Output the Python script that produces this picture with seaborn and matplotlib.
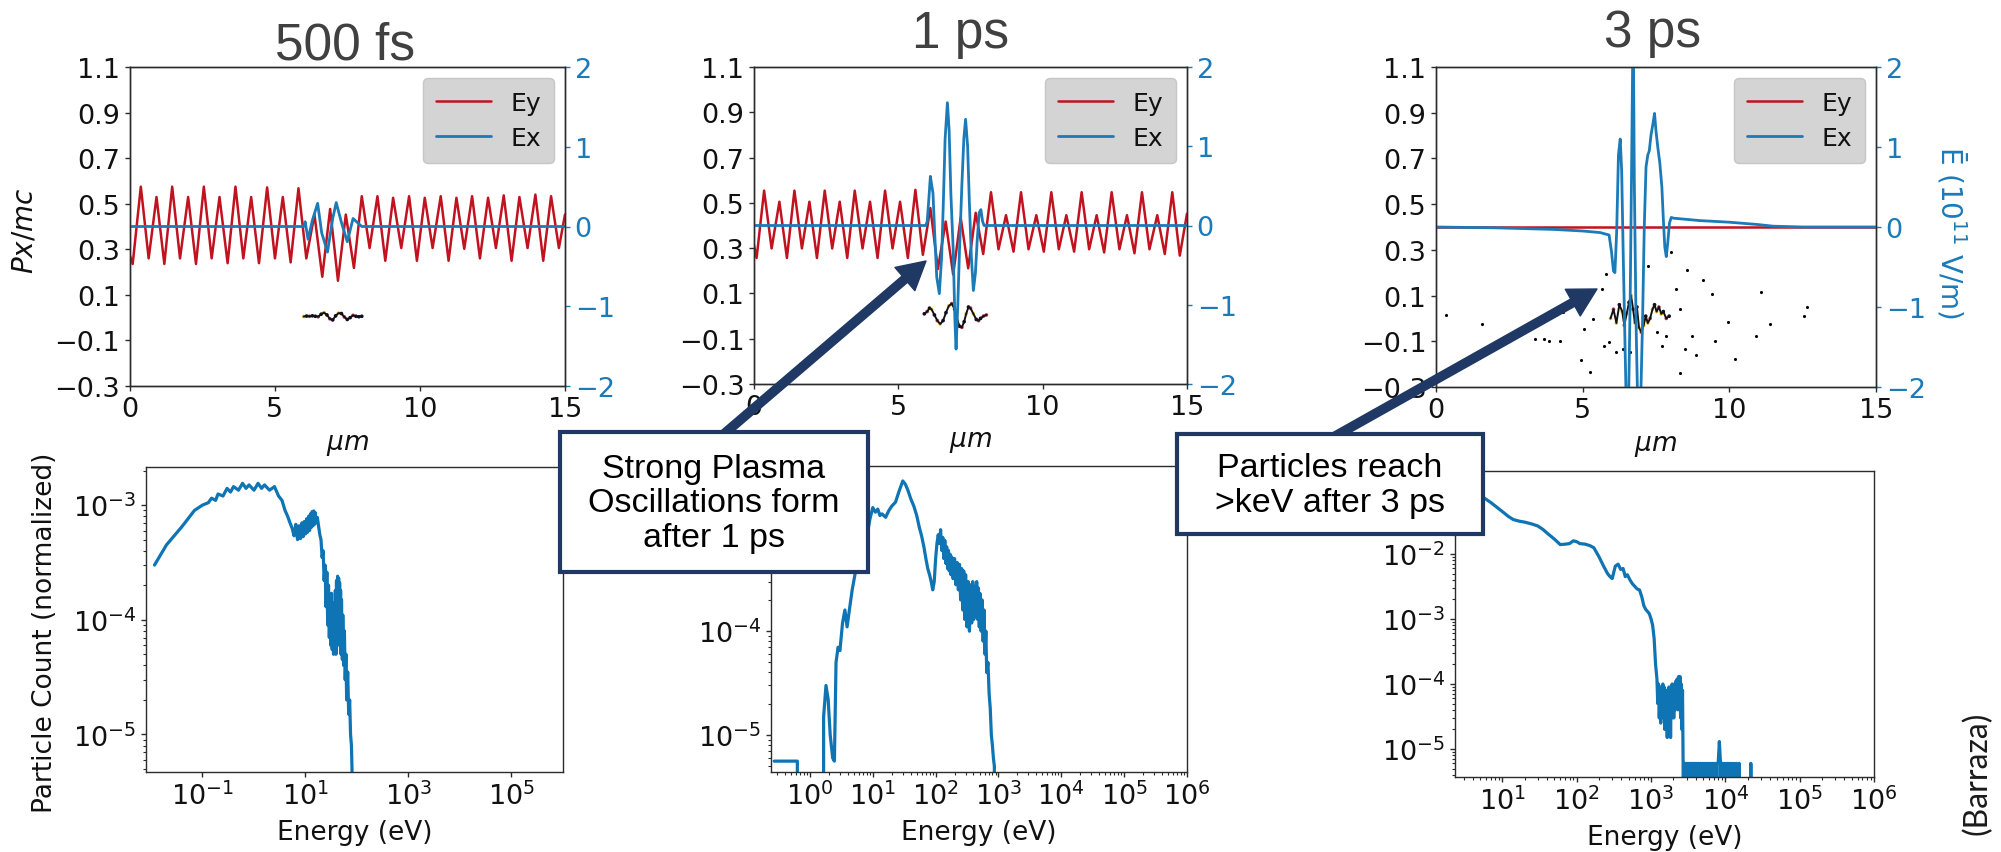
import matplotlib
matplotlib.use("Agg")
import matplotlib.pyplot as plt
from matplotlib.patches import Rectangle, FancyArrowPatch, ArrowStyle
from matplotlib.ticker import FixedLocator, NullLocator, LogLocator
import seaborn as sns

# ---------------------------------------------------------------------------
# Field snapshots: Ey / Ex in units of 1e11 V/m, x in micrometres
# ---------------------------------------------------------------------------
ey_500_x = [0.0, 0.11, 0.39, 0.66, 0.93, 1.20, 1.47, 1.74, 2.02, 2.29, 2.56, 2.83,
            3.10, 3.38, 3.65, 3.92, 4.19, 4.46, 4.74, 5.01, 5.28, 5.55, 5.82, 6.09,
            6.37, 6.64, 6.91, 7.18, 7.45, 7.73, 8.00, 8.27, 8.54, 8.81, 9.08, 9.36,
            9.63, 9.90, 10.17, 10.44, 10.72, 10.99, 11.26, 11.53, 11.80, 12.07, 12.35,
            12.62, 12.89, 13.16, 13.43, 13.71, 13.98, 14.25, 14.52, 14.79, 15.0]
ey_500_v = [-0.35, -0.47, 0.50, -0.40, 0.37, -0.47, 0.50, -0.40, 0.37, -0.47, 0.50, -0.40,
            0.37, -0.46, 0.50, -0.40, 0.37, -0.46, 0.49, -0.40, 0.37, -0.45, 0.48, -0.40,
            0.15, -0.63, 0.22, -0.68, 0.15, -0.52, 0.38, -0.27, 0.38, -0.43, 0.36, -0.27,
            0.38, -0.43, 0.36, -0.27, 0.38, -0.43, 0.36, -0.28, 0.38, -0.40, 0.36,
            -0.27, 0.39, -0.43, 0.37, -0.27, 0.40, -0.43, 0.38, -0.27, 0.15]
ex_500_x = [0.0, 6.0, 6.05, 6.15, 6.3, 6.48, 6.62, 6.82, 7.0, 7.12, 7.3, 7.5, 7.7, 7.85, 8.0, 15.0]
ex_500_v = [0.0, 0.0, 0.06, -0.16, 0.08, 0.29, -0.08, -0.32, 0.10, 0.30, 0.05, -0.19, 0.10, 0.05, 0.0, 0.0]

ey_1_x = [0.0, 0.09, 0.35, 0.61, 0.88, 1.14, 1.40, 1.66, 1.92, 2.18, 2.45, 2.71, 2.97,
          3.23, 3.49, 3.76, 4.02, 4.28, 4.54, 4.80, 5.06, 5.33, 5.59, 5.85, 6.11, 6.37,
          6.64, 6.90, 7.16, 7.42, 7.68, 7.94, 8.21, 8.47, 8.73, 8.99, 9.25, 9.51, 9.78,
          10.04, 10.30, 10.56, 10.82, 11.09, 11.35, 11.61, 11.87, 12.13, 12.39, 12.66,
          12.92, 13.18, 13.44, 13.70, 13.97, 14.23, 14.49, 14.75, 15.0]
ey_1_v = [-0.25, -0.41, 0.44, -0.29, 0.30, -0.41, 0.44, -0.29, 0.30, -0.41, 0.44, -0.29, 0.30,
          -0.41, 0.44, -0.29, 0.30, -0.41, 0.44, -0.29, 0.30, -0.41, 0.45, -0.37, 0.22, -0.55,
          0.05, -0.62, 0.10, -0.54, 0.16, -0.36, 0.42, -0.30, 0.13, -0.33, 0.42, -0.30, 0.13,
          -0.33, 0.42, -0.30, 0.13, -0.33, 0.42, -0.30, 0.13, -0.34, 0.42, -0.30,
          0.13, -0.35, 0.42, -0.30, 0.13, -0.36, 0.42, -0.38, 0.15]
ex_1_x = [0.0, 5.95, 6.0, 6.06, 6.11, 6.16, 6.2, 6.26, 6.33, 6.42, 6.5, 6.56, 6.62, 6.7,
          6.76, 6.82, 6.9, 6.96, 7.0, 7.06, 7.12, 7.2, 7.27, 7.33, 7.4, 7.46, 7.53, 7.6,
          7.67, 7.73, 7.8, 7.86, 7.92, 7.97, 15.0]
ex_1_v = [0.0, 0.0, 0.05, 0.35, 0.62, 0.50, 0.41, -0.10, -0.65, -0.86, -0.40, 0.30, 1.09, 1.55,
          1.20, 0.40, -0.30, -1.20, -1.56, -1.00, -0.30, 0.50, 1.10, 1.34, 1.00, 0.30, -0.40, -0.82,
          -0.60, -0.20, 0.16, 0.20, 0.05, 0.0, 0.0]

ey_3_x = [0.0, 15.0]
ey_3_v = [0.0, 0.0]
ex_3_x = [0.0, 1.0, 2.0, 3.0, 4.0, 5.0, 5.6, 5.9, 5.98, 6.05, 6.1, 6.16, 6.22, 6.28, 6.33,
          6.38, 6.44, 6.49, 6.56, 6.62, 6.67, 6.71, 6.73, 6.76, 6.82, 6.88, 6.97, 7.04, 7.1,
          7.16, 7.22, 7.27, 7.33, 7.4, 7.45, 7.5, 7.56, 7.63, 7.7, 7.75, 7.8, 7.85, 7.9,
          7.96, 8.02, 8.1, 9.0, 10.0, 11.0, 11.5, 12.5, 15.0]
ex_3_v = [0.0, -0.005, -0.01, -0.02, -0.03, -0.05, -0.07, -0.10, -0.30, -0.55, -0.57, -0.05,
          0.90, 1.10, 0.70, -0.30, -1.40, -2.30, -2.30, -0.90, 0.80, 2.30, 2.30, 0.60, -1.20,
          -2.30, -2.30, -1.20, 0.0, 0.75, 0.90, 0.95, 1.15, 1.30, 1.42, 1.20, 1.00, 0.80,
          0.50, 0.10, -0.25, -0.37, -0.20, 0.05, 0.12, 0.11, 0.08, 0.06, 0.03, 0.01, 0.0, 0.0]

# Electron phase space: bunch trace (x in um, Px/mc, colour weight)
ps_500_x = [6.0, 6.1, 6.2, 6.3, 6.4, 6.5, 6.6, 6.7, 6.8, 6.9, 7.0, 7.1, 7.2, 7.3, 7.4, 7.5,
            7.6, 7.7, 7.8, 7.9, 8.0]
ps_500_p = [0.005, 0.007, 0.006, 0.008, 0.006, 0.004, 0.015, 0.022, 0.012, -0.005, -0.010,
            0.008, 0.020, 0.018, 0.003, -0.008, 0.0, 0.010, 0.006, 0.004, 0.006]
ps_500_w = [0.85, 0.1, 0.5, 0.1, 0.1, 0.5, 0.1, 0.85, 0.1, 0.5, 0.1, 0.1, 0.85, 0.1, 0.5,
            0.1, 0.1, 0.5, 0.1, 0.1, 0.1]

ps_1_x = [5.9, 6.0, 6.08, 6.15, 6.25, 6.35, 6.45, 6.55, 6.65, 6.75, 6.85, 6.95, 7.05, 7.12,
          7.2, 7.28, 7.35, 7.43, 7.5, 7.6, 7.7, 7.78, 7.85, 7.95, 8.05]
ps_1_p = [0.01, 0.02, 0.035, 0.03, 0.005, -0.02, -0.035, -0.02, 0.015, 0.045, 0.055, 0.03,
          -0.02, -0.045, -0.05, -0.025, 0.01, 0.04, 0.035, 0.01, -0.015, -0.02, -0.01, 0.0,
          0.005]
ps_1_w = [0.1, 0.5, 0.1, 0.85, 0.1, 0.5, 0.85, 0.1, 0.1, 0.85, 0.5, 0.1, 0.85, 0.1, 0.5,
          0.1, 0.85, 0.1, 0.5, 0.85, 0.1, 0.5, 0.1, 0.5, 0.5]

ps_3_x = [5.95, 6.05, 6.15, 6.25, 6.35, 6.42, 6.5, 6.58, 6.65, 6.72, 6.78, 6.85, 6.92, 7.0,
          7.08, 7.15, 7.22, 7.3, 7.38, 7.45, 7.52, 7.6, 7.68, 7.75, 7.85, 7.95]
ps_3_p = [0.0, 0.04, -0.02, 0.06, 0.03, -0.03, 0.02, 0.07, 0.10, 0.04, -0.02, 0.05, -0.04,
          -0.06, -0.03, 0.01, -0.02, 0.0, 0.04, 0.06, 0.03, 0.05, 0.02, 0.03, 0.0, 0.01]
ps_3_w = [0.85, 0.5, 0.85, 0.1, 0.85, 0.5, 0.85, 0.1, 0.85, 0.5, 0.85, 0.1, 0.85, 0.5,
          0.85, 0.1, 0.85, 0.5, 0.85, 0.1, 0.85, 0.5, 0.85, 0.1, 0.5, 0.1]

# Stray electrons at 3 ps
stray_3_x = [0.35, 1.57, 3.38, 3.69, 3.85, 4.24, 4.32, 4.95, 5.03, 5.26, 5.34, 5.65, 5.73,
             5.81, 5.89, 6.13, 6.36, 6.60, 7.23, 7.54, 7.70, 8.01, 8.17, 8.32, 8.48, 8.56,
             8.72, 9.10, 9.42, 9.50, 9.97, 10.2, 10.9, 11.07, 11.39, 12.64, 12.56, 8.32,
             8.87, 7.85]
stray_3_p = [0.015, -0.024, -0.09, -0.09, -0.097, -0.10, 0.027, -0.18, -0.046, -0.236,
             -0.002, 0.13, -0.12, 0.195, -0.104, -0.148, -0.134, -0.148, 0.23, -0.06,
             -0.12, 0.29, 0.13, 0.04, -0.134, 0.21, -0.075, 0.17, 0.107, -0.097, -0.017,
             -0.178, -0.075, 0.114, -0.024, 0.05, 0.012, -0.24, -0.16, -0.075]

# ---------------------------------------------------------------------------
# Energy spectra (eV, normalised particle count)
# ---------------------------------------------------------------------------
en_500 = [0.0117, 0.02, 0.04, 0.07, 0.1, 0.13, 0.15, 0.18, 0.2, 0.25, 0.3, 0.35, 0.4, 0.5,
          0.6, 0.7, 0.8, 1.0, 1.2, 1.4, 1.6, 2.0, 2.5, 3.0, 3.5, 4.0, 4.5, 5.0, 5.5, 6.0,
          6.5, 7.0, 7.5, 8.0, 8.5, 9.0, 9.5, 10.0, 10.5, 11.0, 11.5, 12.0, 12.5, 13.0, 13.5,
          14.0, 14.5, 15.0, 15.5, 16.0, 17.0, 18.0, 19.0,
          20.0, 21.0, 22.0, 23.0, 24.0, 25.0, 26.0, 27.0, 28.0, 29.0, 30.0, 31.0, 32.0, 33.0,
          34.0, 35.0, 36.0, 37.0, 38.0, 39.0, 40.0, 41.0, 42.0, 43.0, 44.0, 45.0, 46.0, 47.0,
          48.0, 49.0, 50.0, 52.0, 53.0, 55.0, 57.0, 59.0, 61.0, 63.0, 66.0, 69.0, 72.0, 75.0,
          78.0, 80.0, 83.0]
ct_500 = [3.0e-4, 4.5e-4, 6.5e-4, 9.0e-4, 1.0e-3, 1.05e-3, 1.15e-3, 1.1e-3, 1.25e-3, 1.2e-3,
          1.4e-3, 1.3e-3, 1.45e-3, 1.35e-3, 1.55e-3, 1.4e-3, 1.5e-3, 1.35e-3, 1.55e-3, 1.4e-3,
          1.5e-3, 1.35e-3, 1.45e-3, 1.2e-3, 1.1e-3, 9.0e-4, 8.0e-4, 7.0e-4, 6.3e-4, 5.4e-4,
          6.8e-4, 5.0e-4, 6.6e-4, 5.1e-4, 7.0e-4, 5.3e-4, 7.2e-4, 5.6e-4, 7.6e-4, 5.8e-4,
          8.0e-4, 6.0e-4, 8.4e-4, 6.4e-4, 8.8e-4, 6.6e-4, 8.9e-4, 6.8e-4, 8.6e-4, 7.0e-4,
          7.8e-4, 6.5e-4, 5.5e-4,
          5.0e-4, 3.5e-4, 4.0e-4, 2.2e-4, 3.0e-4, 1.3e-4, 2.6e-4, 9.0e-5, 2.0e-4, 7.0e-5,
          1.5e-4, 6.0e-5, 1.7e-4, 5.5e-5, 1.3e-4, 5.0e-5, 1.4e-4, 6.0e-5, 1.8e-4, 5.0e-5,
          2.2e-4, 7.0e-5, 2.4e-4, 8.0e-5, 2.3e-4, 6.0e-5, 2.1e-4, 7.0e-5, 1.8e-4, 5.0e-5,
          1.5e-4, 4.5e-5, 1.1e-4, 4.0e-5, 8.0e-5, 3.0e-5, 5.0e-5, 2.0e-5, 3.5e-5, 1.5e-5,
          2.0e-5, 1.0e-5, 8.0e-6, 5.0e-6, 0.0]

en_1 = [0.27, 0.63, 0.64, 1.55, 1.65, 1.8, 1.95, 2.1, 2.3, 2.45, 2.6, 2.8, 3.0, 3.3, 3.6,
        3.9, 4.3, 4.7, 5.2, 5.7, 6.3, 7.0, 8.0, 9.0, 10.0, 11.0, 12.0, 13.0, 14.0, 16.0,
        18.0, 20.0, 23.0, 26.0, 30.0, 33.0, 36.0, 40.0, 45.0, 50.0, 55.0, 60.0, 65.0, 70.0,
        75.0, 80.0, 85.0, 90.0, 95.0,
        100.0, 105.0, 110.0, 115.0, 120.0, 125.0, 130.0, 135.0, 140.0, 145.0, 150.0, 155.0,
        160.0, 165.0, 170.0, 175.0, 180.0, 190.0, 200.0, 210.0, 220.0, 230.0, 240.0, 250.0,
        260.0, 270.0, 280.0, 290.0, 300.0, 315.0, 330.0, 345.0, 360.0, 375.0, 390.0, 405.0,
        420.0, 435.0, 450.0, 465.0, 480.0, 495.0, 510.0, 530.0, 550.0, 570.0, 590.0, 610.0,
        630.0, 650.0, 680.0, 710.0, 740.0, 770.0, 800.0, 830.0, 860.0, 880.0]
ct_1 = [5.6e-6, 5.6e-6, 0.0, 0.0, 1.5e-5, 3.0e-5, 2.2e-5, 1.0e-5, 6.0e-6, 5.6e-6, 5.0e-5,
        7.0e-5, 6.5e-5, 1.2e-4, 1.6e-4, 1.1e-4, 1.7e-4, 2.5e-4, 3.5e-4, 5.0e-4, 7.0e-4,
        9.0e-4, 8.0e-4, 1.2e-3, 1.55e-3, 1.4e-3, 1.5e-3, 1.3e-3, 1.35e-3, 1.25e-3, 1.45e-3,
        1.6e-3, 1.75e-3, 2.2e-3, 2.8e-3, 2.6e-3, 2.3e-3, 1.9e-3, 1.6e-3, 1.3e-3, 1.0e-3,
        8.2e-4, 6.5e-4, 5.0e-4, 4.0e-4, 3.5e-4, 3.0e-4, 2.5e-4, 3.0e-4,
        5.0e-4, 7.0e-4, 8.5e-4, 7.0e-4, 9.5e-4, 6.0e-4, 8.0e-4, 5.0e-4, 7.5e-4, 4.5e-4,
        6.5e-4, 4.0e-4, 6.0e-4, 3.8e-4, 5.5e-4, 3.5e-4, 5.2e-4, 3.2e-4, 5.0e-4, 2.8e-4,
        4.6e-4, 2.5e-4, 4.4e-4, 2.0e-4, 4.0e-4, 1.6e-4, 3.8e-4, 1.3e-4, 3.5e-4, 1.1e-4,
        3.0e-4, 1.0e-4, 2.8e-4, 1.2e-4, 3.0e-4, 1.3e-4, 2.7e-4, 1.4e-4, 3.0e-4, 1.3e-4,
        2.6e-4, 1.1e-4, 2.3e-4, 1.0e-4, 2.0e-4, 8.0e-5, 1.6e-4, 6.0e-5, 1.0e-4, 4.0e-5,
        5.0e-5, 2.5e-5, 1.8e-5, 1.0e-5, 8.0e-6, 6.0e-6, 5.0e-6, 0.0]

en_3 = [2.4, 3.0, 4.0, 5.0, 6.0, 7.0, 8.0, 10.0, 12.0, 14.0, 17.0, 20.0, 25.0, 30.0, 35.0,
        40.0, 50.0, 60.0, 70.0, 80.0, 90.0, 100.0, 110.0, 130.0, 150.0, 170.0, 200.0, 230.0,
        260.0, 280.0, 300.0, 330.0, 360.0, 390.0, 420.0, 450.0, 480.0, 520.0, 560.0, 600.0,
        650.0, 700.0, 750.0, 800.0, 850.0, 900.0, 950.0, 1000.0, 1050.0, 1100.0, 1150.0,
        1200.0, 1230.0, 1260.0, 1290.0, 1320.0, 1350.0, 1380.0, 1410.0, 1440.0, 1470.0,
        1500.0, 1530.0, 1560.0, 1590.0, 1620.0, 1650.0, 1680.0, 1710.0, 1740.0, 1770.0,
        1800.0, 1830.0, 1860.0, 1890.0, 1920.0, 1950.0, 1980.0, 2020.0, 2060.0, 2100.0,
        2150.0, 2200.0, 2250.0, 2300.0, 2350.0, 2400.0, 2450.0, 2500.0, 2550.0, 2600.0,
        2650.0, 2700.0, 2760.0, 2820.0, 2880.0, 2950.0, 3020.0, 3100.0, 3180.0, 3260.0,
        3350.0, 3450.0, 3550.0, 3650.0, 3750.0, 3850.0, 3950.0, 4070.0, 4200.0, 4330.0,
        4470.0, 4600.0, 4750.0, 4900.0, 5050.0, 5200.0, 5400.0, 5600.0, 5800.0, 6000.0,
        6200.0, 6400.0, 6600.0, 6800.0, 7000.0, 7250.0, 7500.0, 7750.0, 8000.0, 8300.0,
        8600.0, 8900.0, 9200.0, 9500.0, 9800.0, 10100.0, 10500.0, 10900.0, 11300.0,
        11700.0, 12100.0, 12600.0, 13100.0, 13600.0, 14100.0, 14700.0, 15300.0, 16000.0,
        21500.0, 22000.0, 22500.0]
ct_3 = [0.14, 0.12, 0.095, 0.08, 0.07, 0.062, 0.055, 0.045, 0.038, 0.034, 0.032, 0.031,
        0.029, 0.027, 0.024, 0.021, 0.017, 0.014, 0.0142, 0.0145, 0.016, 0.0155, 0.0145,
        0.0142, 0.0135, 0.0125, 0.009, 0.0065, 0.005, 0.0045, 0.0042, 0.0065, 0.007, 0.0058,
        0.006, 0.0045, 0.0048, 0.004, 0.0035, 0.0032, 0.0029, 0.0028, 0.0022, 0.0016, 0.0014,
        0.0013, 0.0012, 0.001, 8.0e-4, 5.0e-4, 2.0e-4,
        1.2e-4, 5.0e-5, 1.0e-4, 3.0e-5, 9.0e-5, 2.5e-5, 8.0e-5, 4.0e-5, 1.0e-4, 3.0e-5,
        9.0e-5, 2.0e-5, 7.0e-5, 3.0e-5, 8.0e-5, 1.5e-5, 6.0e-5, 2.0e-5, 9.0e-5, 3.0e-5,
        8.0e-5, 1.5e-5, 6.0e-5, 3.0e-5, 1.0e-4, 4.0e-5, 9.0e-5, 3.0e-5, 1.0e-4, 4.0e-5,
        1.1e-4, 5.0e-5, 1.2e-4, 4.0e-5, 1.3e-4, 5.0e-5, 1.3e-4, 3.0e-5, 1.0e-4, 2.0e-5,
        8.0e-5, 6.0e-6,
        0.0, 6.0e-6, 0.0, 6.0e-6, 0.0, 6.0e-6, 0.0, 6.0e-6,
        0.0, 6.0e-6, 0.0, 6.0e-6, 0.0, 6.0e-6, 0.0, 6.0e-6, 0.0, 6.0e-6,
        0.0, 6.0e-6, 0.0, 6.0e-6, 0.0, 6.0e-6, 0.0, 6.0e-6, 0.0, 6.0e-6,
        0.0, 6.0e-6, 0.0, 6.0e-6, 0.0, 6.0e-6, 0.0, 6.0e-6, 6.0e-6, 1.3e-5,
        6.0e-6, 0.0, 6.0e-6, 0.0, 6.0e-6, 0.0, 6.0e-6, 0.0, 6.0e-6,
        0.0, 6.0e-6, 0.0, 6.0e-6, 0.0, 6.0e-6, 0.0, 6.0e-6, 0.0,
        0.0, 6.0e-6, 0.0]

titles = ["500 fs", "1 ps", "3 ps"]
p_ticks = [-0.3, -0.1, 0.1, 0.3, 0.5, 0.7, 0.9, 1.1]
e_ticks = [-2, -1, 0, 1, 2]
x_ticks = [0, 5, 10, 15]
notes = ["Strong Plasma\nOscillations form\nafter 1 ps", "Particles reach\n>keV after 3 ps"]

# ---------------------------------------------------------------------------
sns.set_style("ticks")
plt.rcParams["font.family"] = ["DejaVu Sans"]
plt.rcParams.update({
    "axes.edgecolor": "#2b2b2b",
    "axes.linewidth": 1.0,
    "xtick.color": "#2b2b2b",
    "ytick.color": "#2b2b2b",
    "xtick.labelcolor": "#111111",
    "ytick.labelcolor": "#111111",
    "axes.labelcolor": "#111111",
    "text.color": "#111111",
    "mathtext.fontset": "dejavusans",
    "xtick.major.width": 1.0,
    "ytick.major.width": 1.0,
    "xtick.minor.width": 0.8,
    "ytick.minor.width": 0.8,
})

RED = "#c1121f"
BLUE = "#1b7ab8"
SPEC = "#0f74b3"
NAVY = "#1f3864"
TICK_FS = 19.5

W, H = 2001, 853
fig = plt.figure(figsize=(W / 100, H / 100), dpi=100)


def frac(x0, y0, x1, y1):
    return [x0 / W, 1 - y1 / H, (x1 - x0) / W, (y1 - y0) / H]


def fpt(x, y):
    return (x / W, 1 - y / H)


def field_panel(rect, ey_x, ey_v, ex_x, ex_v, ps_x, ps_p, ps_w, stray=None,
                left_label=False, right_label=False):
    ax = fig.add_axes(frac(*rect))
    if stray is not None:
        sns.scatterplot(x=stray[0], y=stray[1], color="black", s=5, linewidth=0,
                        legend=False, ax=ax)
    sns.lineplot(x=ps_x, y=ps_p, color="#111111", linewidth=1.4, sort=False,
                 estimator=None, ax=ax)
    sns.scatterplot(x=ps_x, y=ps_p, hue=ps_w, palette="inferno", hue_norm=(0, 1), s=7,
                    linewidth=0, legend=False, ax=ax)
    ax.set_xlim(0, 15)
    ax.set_ylim(-0.3, 1.1)
    ax.set_xticks(x_ticks)
    ax.set_yticks(p_ticks)
    ax.set_yticklabels([f"{v:.1f}".replace("-", "\u2212") for v in p_ticks])
    ax.tick_params(labelsize=TICK_FS)
    ax.set_xlabel(r"$\mu m$", fontsize=19, va="top")
    ax.xaxis.set_label_coords(0.5, -0.14)
    if left_label:
        ax.set_ylabel(r"$Px/mc$", fontsize=20, va="center")
        ax.yaxis.set_label_coords(-0.24, 0.49)
    else:
        ax.set_ylabel("")

    ax2 = ax.twinx()
    sns.lineplot(x=ey_x, y=ey_v, color=RED, linewidth=1.8, label="Ey", sort=False,
                 estimator=None, solid_joinstyle="round", ax=ax2)
    sns.lineplot(x=ex_x, y=ex_v, color=BLUE, linewidth=2.0, label="Ex", sort=False,
                 estimator=None, solid_joinstyle="round", ax=ax2)
    ax2.set_xlim(0, 15)
    ax2.set_ylim(-2, 2)
    ax2.set_yticks(e_ticks)
    ax2.tick_params(axis="y", colors=BLUE, labelcolor=BLUE, labelsize=TICK_FS)
    ax2.spines["right"].set_color("#2b2b2b")
    if right_label:
        ax2.set_ylabel("\u0112 (10$^{11}$ V/m)", color=BLUE, fontsize=20, rotation=270,
                       va="center")
        ax2.yaxis.set_label_coords(1.173, 0.485)
    else:
        ax2.set_ylabel("")
    ax2.legend(loc="upper right", fontsize=18, facecolor="#d4d4d4", edgecolor="#c6c6c6",
               framealpha=1.0, fancybox=True, handlelength=2.2, borderaxespad=0.45,
               borderpad=0.5, labelspacing=0.45)
    return ax, ax2


def spectrum_panel(rect, e, n, xlim, ylim, xmajor, xminor, ymajor, ylabel=False):
    ax = fig.add_axes(frac(*rect))
    ax.set_xscale("log")
    ax.set_yscale("log")
    sns.lineplot(x=e, y=n, color=SPEC, linewidth=2.3, sort=False, estimator=None,
                 legend=False, ax=ax)
    ax.set_xlim(*xlim)
    ax.set_ylim(*ylim)
    ax.xaxis.set_major_locator(FixedLocator(xmajor))
    if xminor:
        ax.xaxis.set_minor_locator(LogLocator(base=10, subs=range(2, 10), numticks=60))
    else:
        ax.xaxis.set_minor_locator(NullLocator())
    ax.yaxis.set_major_locator(FixedLocator(ymajor))
    ax.yaxis.set_minor_locator(LogLocator(base=10, subs=range(2, 10), numticks=60))
    ax.tick_params(labelsize=TICK_FS)
    ax.set_xlabel("Energy (eV)", fontsize=19, va="top")
    ax.xaxis.set_label_coords(0.5, -0.155)
    if ylabel:
        ax.set_ylabel("Particle Count (normalized)", fontsize=19, va="center")
        ax.yaxis.set_label_coords(-0.242, 0.46)
    else:
        ax.set_ylabel("")
    return ax


# Top row: field snapshots
field_panel((129.5, 68, 565, 387), ey_500_x, ey_500_v, ex_500_x, ex_500_v,
            ps_500_x, ps_500_p, ps_500_w, left_label=True)
field_panel((754, 68, 1187, 385), ey_1_x, ey_1_v, ex_1_x, ex_1_v,
            ps_1_x, ps_1_p, ps_1_w)
field_panel((1436, 68, 1876, 388), ey_3_x, ey_3_v, ex_3_x, ex_3_v,
            ps_3_x, ps_3_p, ps_3_w, stray=(stray_3_x, stray_3_p), right_label=True)

# Bottom row: energy spectra
spectrum_panel((146, 468, 563, 773), en_500, ct_500, (8e-3, 1e6), (4.7e-6, 2.15e-3),
               [1e-1, 1e1, 1e3, 1e5], False, [1e-5, 1e-4, 1e-3], ylabel=True)
spectrum_panel((771, 467, 1187, 773), en_1, ct_1, (0.24, 1e6), (4.4e-6, 3.9e-3),
               [1e0, 1e1, 1e2, 1e3, 1e4, 1e5, 1e6], True, [1e-5, 1e-4, 1e-3])
spectrum_panel((1455, 472, 1874, 778), en_3, ct_3, (2.3, 1e6), (3.7e-6, 0.19),
               [1e1, 1e2, 1e3, 1e4, 1e5, 1e6], True, [1e-5, 1e-4, 1e-3, 1e-2, 1e-1])

# Time labels
for t, (x, y) in zip(titles, [(345, 60), (961, 48), (1653, 47)]):
    fig.text(*fpt(x, y), t, ha="center", va="baseline", fontsize=37,
             family=["Liberation Sans", "DejaVu Sans"], color="#404040")

# Call-out arrows and boxes
arrow_style = ArrowStyle("simple", head_length=0.5, head_width=0.55, tail_width=0.15)
for (x0, y0), (x1, y1) in [((718, 440), (926, 262)), ((1330, 440), (1597, 290))]:
    arr = FancyArrowPatch(fpt(x0, y0), fpt(x1, y1), transform=fig.transFigure,
                          arrowstyle=arrow_style, mutation_scale=40, color=NAVY,
                          shrinkA=0, shrinkB=0, zorder=5)
    fig.add_artist(arr)

for note, (x0, y0, x1, y1) in zip(notes, [(560, 433, 868, 573), (1177, 435, 1483, 535)]):
    rect = Rectangle(fpt(x0, y1), (x1 - x0) / W, (y1 - y0) / H, transform=fig.transFigure,
                     facecolor="white", edgecolor=NAVY, linewidth=3.0, zorder=6)
    fig.add_artist(rect)
    fig.text(*fpt((x0 + x1) / 2, (y0 + y1) / 2 + 1), note, ha="center", va="center",
             fontsize=24.5, linespacing=1.15, family=["Liberation Sans", "DejaVu Sans"],
             color="black", zorder=7)

fig.text(*fpt(1977, 773), "(Barraza)", rotation=90, ha="center", va="center", fontsize=23,
         family=["Lato", "DejaVu Sans"], color="#1a1a1a")

fig.savefig("out.png", dpi=100)
